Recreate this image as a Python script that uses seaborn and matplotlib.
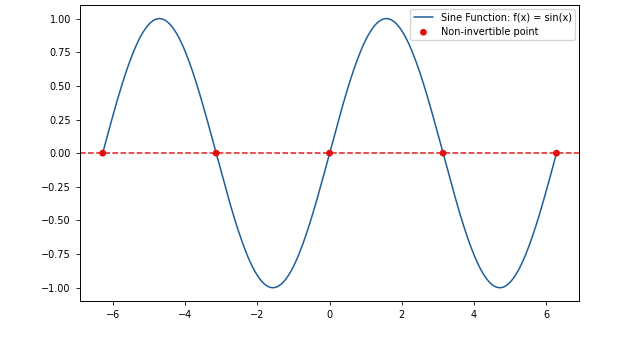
import numpy as np
import matplotlib
matplotlib.use("Agg")
import matplotlib.pyplot as plt
import seaborn as sns
import pandas as pd

# Data
x_start, x_end = -2 * np.pi, 2 * np.pi
x_vals = np.linspace(x_start, x_end, 400)
y_vals = np.sin(x_vals)  # curve defined by the legend: f(x) = sin(x)
zero_x = [-2 * np.pi, -np.pi, 0.0, np.pi, 2 * np.pi]
zero_y = [0.0, 0.0, 0.0, 0.0, 0.0]
line_label = "Sine Function: f(x) = sin(x)"
point_label = "Non-invertible point"

sns.set_style("ticks", rc={"text.color": "black", "xtick.color": "black",
                           "ytick.color": "black", "axes.labelcolor": "black",
                           "axes.edgecolor": "black"})
plt.rcParams['font.family'] = ['DejaVu Sans']

fig, ax = plt.subplots(figsize=(6.4, 3.43), dpi=100)
fig.subplots_adjust(left=0.125, right=0.905, bottom=0.122, top=0.985)

df_line = pd.DataFrame({"x": x_vals, "y": y_vals})
df_pts = pd.DataFrame({"x": zero_x, "y": zero_y})

sns.lineplot(data=df_line, x="x", y="y", ax=ax, color="#1f5f99", linewidth=1.1,
             label=line_label)
ax.axhline(0, color="#e02020", linestyle="--", linewidth=1.1)
sns.scatterplot(data=df_pts, x="x", y="y", ax=ax, color="#e01010", s=24,
                edgecolor="none", zorder=5, label=point_label)

ax.set_xlabel("")
ax.set_ylabel("")
ax.set_yticks([-1.0, -0.75, -0.5, -0.25, 0.0, 0.25, 0.5, 0.75, 1.0])
ax.tick_params(labelsize=7, length=3, width=0.6)
for s in ax.spines.values():
    s.set_visible(True)
    s.set_linewidth(0.7)
ax.legend(loc="upper right", fontsize=7, frameon=True, framealpha=0.8,
          edgecolor="#cccccc", borderpad=0.35, labelspacing=0.45,
          handlelength=2.0, borderaxespad=0.4)

fig.savefig("out.png", dpi=100)
